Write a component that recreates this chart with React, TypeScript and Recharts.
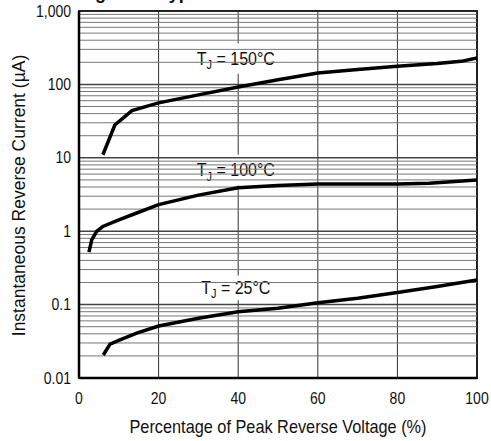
import React from 'react';
import { LineChart, Line, XAxis, YAxis, ReferenceLine, ReferenceArea, Label, CartesianGrid } from 'recharts';

const FONT = '"Liberation Sans", Arial, Helvetica, sans-serif';

// Percentage of peak reverse voltage (%) and reverse current (µA)
const x150 = [6, 9, 13.3, 20, 30, 40, 50, 60, 70, 80, 90, 96, 100];
const y150 = [11, 28, 44, 56, 72, 92, 116, 143, 160, 177, 192, 206, 230];

const x100 = [2.5, 3.2, 4.4, 6, 10, 14.5, 20, 30, 40, 50, 60, 70, 80, 88, 100];
const y100 = [0.52, 0.76, 0.99, 1.16, 1.43, 1.77, 2.3, 3.1, 3.9, 4.2, 4.4, 4.4, 4.4, 4.5, 5.0];

const x25 = [6.1, 7.8, 10.3, 14.5, 20, 30, 40, 50, 60, 70, 80, 90, 100];
const y25 = [0.0206, 0.029, 0.033, 0.041, 0.051, 0.065, 0.08, 0.089, 0.106, 0.122, 0.146, 0.176, 0.217];

const xTicks = [0, 20, 40, 60, 80, 100];
const yTicks = [0.01, 0.1, 1, 10, 100, 1000];
const yTickLabels = ['0.01', '0.1', '1', '10', '100', '1,000'];

const decadeGrid = [0.1, 1, 10, 100];
const minorGrid = [
  0.02, 0.03, 0.04, 0.05, 0.06, 0.07, 0.08, 0.09,
  0.2, 0.3, 0.4, 0.5, 0.6, 0.7, 0.8, 0.9,
  2, 3, 4, 5, 6, 7, 8, 9,
  20, 30, 40, 50, 60, 70, 80, 90,
  200, 300, 400, 500, 600, 700, 800, 900,
];

const labels = [
  { temp: '150', x1: 28.8, x2: 50, y1: 140, y2: 360 },
  { temp: '100', x1: 28.8, x2: 50, y1: 4.2, y2: 11 },
  { temp: '25', x1: 28.8, x2: 50, y1: 0.115, y2: 0.25 },
];

const toData = (xs: number[], ys: number[]) => xs.map((x, i) => ({ x, y: ys[i] }));
const d150 = toData(x150, y150);
const d100 = toData(x100, y100);
const d25 = toData(x25, y25);

const renderTj = (temp: string) => (props: any) => {
  const vb = props.viewBox || {};
  const cx = vb.x + vb.width / 2;
  const cy = vb.y + vb.height / 2;
  return (
    <text
      x={0}
      y={0}
      transform={`translate(${cx} ${cy + 6}) scale(1 1.12)`}
      textAnchor="middle"
      fontSize={16}
      fill="#111"
      fontFamily={FONT}
    >
      T<tspan fontSize={11} dy={4}>J</tspan>
      <tspan dy={-4}>{` = ${temp}°C`}</tspan>
    </text>
  );
};

const XTick = (props: any) => {
  const { x, y, payload } = props;
  return (
    <text x={0} y={0} transform={`translate(${x} ${y + 18}) scale(1 1.16)`} textAnchor="middle" fontSize={14} fill="#111" fontFamily={FONT}>
      {payload.value}
    </text>
  );
};

const YTick = (props: any) => {
  const { x, y, payload } = props;
  const idx = yTicks.indexOf(payload.value);
  return (
    <text x={0} y={0} transform={`translate(${x} ${y + 5.5}) scale(1 1.16)`} textAnchor="end" fontSize={14} fill="#111" fontFamily={FONT}>
      {idx >= 0 ? yTickLabels[idx] : String(payload.value)}
    </text>
  );
};

const yTitle = (props: any) => {
  const vb = props.viewBox || {};
  const x = 25;
  const y = vb.y + vb.height / 2 + 1;
  return (
    <text x={x} y={y} transform={`rotate(-90 ${x} ${y})`} textAnchor="middle" fontSize={17.5} fill="#111" fontFamily={FONT}>
      Instantaneous Reverse Current (µA)
    </text>
  );
};

const xTitle = (props: any) => {
  const vb = props.viewBox || {};
  const cx = vb.x + vb.width / 2;
  const by = vb.y + 55;
  return (
    <text x={0} y={0} transform={`translate(${cx} ${by}) scale(1 1.1)`} textAnchor="middle" fontSize={16.3} fill="#111" fontFamily={FONT}>
      Percentage of Peak Reverse Voltage (%)
    </text>
  );
};

export default function App() {
  return (
    <div style={{ position: 'absolute', left: 0, top: 0, width: 491, height: 441, background: '#fff', overflow: 'hidden' }}>
      <svg width={491} height={441} style={{ position: 'absolute', left: 0, top: 0 }}>
        <text x={79} y={-1} fontSize={18} fontWeight="bold" fill="#111" fontFamily={FONT}>
          Figure 4. Typical Reverse Current
        </text>
      </svg>
      <div style={{ position: 'absolute', left: 0, top: 0 }}>
        <LineChart width={491} height={441} margin={{ top: 11, right: 14, bottom: 0, left: 0 }}>
          <CartesianGrid horizontal={false} vertical stroke="#333" strokeWidth={1} />
          <XAxis
            type="number"
            dataKey="x"
            domain={[0, 100]}
            ticks={xTicks}
            allowDataOverflow
            height={63}
            tickLine={false}
            axisLine={{ stroke: '#000', strokeWidth: 2.5 }}
            tick={<XTick />}
          >
            <Label content={xTitle} />
          </XAxis>
          <YAxis
            type="number"
            dataKey="y"
            scale="log"
            domain={[0.01, 1000]}
            ticks={yTicks}
            allowDataOverflow
            width={79}
            tickLine={false}
            axisLine={{ stroke: '#000', strokeWidth: 2.5 }}
            tick={<YTick />}
          >
            <Label content={yTitle} />
          </YAxis>
          {minorGrid.map((v) => (
            <ReferenceLine key={`m${v}`} y={v} stroke="#777" strokeWidth={1} ifOverflow="hidden" />
          ))}
          {decadeGrid.map((v) => (
            <ReferenceLine key={`d${v}`} y={v} stroke="#444" strokeWidth={1.5} ifOverflow="hidden" />
          ))}
          {labels.map((l) => (
            <ReferenceArea key={l.temp} x1={l.x1} x2={l.x2} y1={l.y1} y2={l.y2} fill="#fff" fillOpacity={1} stroke="none">
              <Label content={renderTj(l.temp)} />
            </ReferenceArea>
          ))}
          <ReferenceArea x1={0} x2={100} y1={0.01} y2={1000} fill="none" stroke="#222" strokeWidth={2} />
          <Line data={d150} dataKey="y" type="linear" stroke="#000" strokeWidth={3.5} dot={false} isAnimationActive={false} />
          <Line data={d100} dataKey="y" type="linear" stroke="#000" strokeWidth={3.5} dot={false} isAnimationActive={false} />
          <Line data={d25} dataKey="y" type="linear" stroke="#000" strokeWidth={3.5} dot={false} isAnimationActive={false} />
        </LineChart>
      </div>
    </div>
  );
}
